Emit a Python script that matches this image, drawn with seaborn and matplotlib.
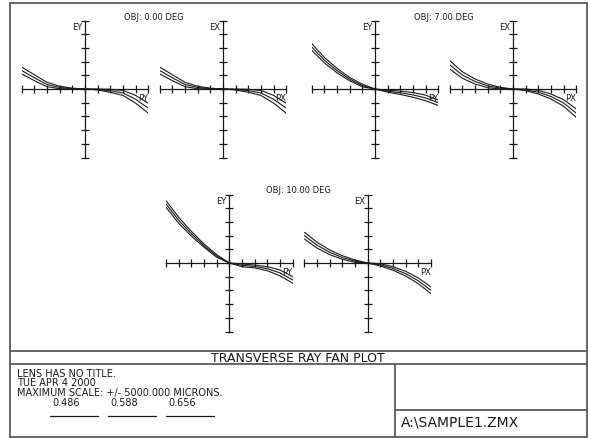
import numpy as np
import pandas as pd
import matplotlib
matplotlib.use("Agg")
import matplotlib.pyplot as plt
import seaborn as sns
from matplotlib.lines import Line2D

# ---------------- data (microns) ----------------
pupil = [-1.0, -0.8, -0.6, -0.4, -0.2, 0.0, 0.2, 0.4, 0.6, 0.8, 1.0]
wavelengths = ["0.486", "0.588", "0.656"]
max_scale = 5000.0
field_labels = ["OBJ: 0.00 DEG", "OBJ: 7.00 DEG", "OBJ: 10.00 DEG"]

obj0_ey_a = [1600, 1040, 490, 200, 60, 0, -70, -240, -470, -1030, -1770]
obj0_ey_b = [1350, 820, 330, 110, 30, 0, -35, -120, -290, -750, -1400]
obj0_ey_c = [1100, 610, 170, 20, 0, 0, 0, -20, -110, -470, -1040]

obj0_ex_a = [1600, 1040, 490, 200, 60, 0, -70, -240, -470, -1030, -1770]
obj0_ex_b = [1350, 820, 330, 110, 30, 0, -35, -120, -290, -750, -1400]
obj0_ex_c = [1100, 610, 170, 20, 0, 0, 0, -20, -110, -470, -1040]

obj7_ey_a = [3320, 2300, 1500, 840, 350, 0, -230, -400, -600, -860, -1200]
obj7_ey_b = [3075, 2105, 1340, 720, 255, 0, -160, -275, -430, -655, -1000]
obj7_ey_c = [2830, 1910, 1180, 600, 160, 0, -90, -150, -260, -450, -800]

obj7_ex_a = [2070, 1260, 730, 365, 120, 0, -120, -365, -730, -1260, -2070]
obj7_ex_b = [1765, 1020, 550, 230, 60, 0, -60, -230, -550, -1020, -1765]
obj7_ex_c = [1460, 780, 365, 95, 0, 0, 0, -95, -365, -780, -1460]

obj10_ey_a = [4550, 3340, 2310, 1390, 610, 0, -270, -360, -560, -930, -1470]
obj10_ey_b = [4310, 3120, 2140, 1270, 515, 0, -170, -255, -415, -720, -1235]
obj10_ey_c = [4070, 2900, 1970, 1150, 420, 0, -70, -150, -270, -510, -1000]

obj10_ex_a = [2240, 1510, 950, 530, 220, 0, -220, -530, -950, -1510, -2240]
obj10_ex_b = [1995, 1300, 780, 400, 135, 0, -135, -400, -780, -1300, -1995]
obj10_ex_c = [1750, 1090, 610, 270, 50, 0, -50, -270, -610, -1090, -1750]

footer_lines = ["LENS HAS NO TITLE.", "TUE APR 4 2000",
                "MAXIMUM SCALE: +/- 5000.000 MICRONS."]
file_name = "A:\\SAMPLE1.ZMX"
plot_title = "TRANSVERSE RAY FAN PLOT"

# ---------------- figure ----------------
W, H = 589, 439
sns.set_style("white")
plt.rcParams["font.family"] = ["DejaVu Sans"]
fig = plt.figure(figsize=(W / 100, H / 100), dpi=100)
fig.patch.set_facecolor("white")

INK = "#1a1a1a"
EDGE = "#5a5a5a"


def fx(x):
    return x / W


def fy(y):
    return 1 - y / H


def hline(y, x0, x1, lw=1.3, color=EDGE):
    fig.add_artist(Line2D([fx(x0), fx(x1)], [fy(y), fy(y)], color=color, lw=lw))


def vline(x, y0, y1, lw=1.3, color=EDGE):
    fig.add_artist(Line2D([fx(x), fx(x)], [fy(y0), fy(y1)], color=color, lw=lw))


panels = [
    ("EY", "PY", (obj0_ey_a, obj0_ey_b, obj0_ey_c), (85, 90)),
    ("EX", "PX", (obj0_ex_a, obj0_ex_b, obj0_ex_c), (223, 90)),
    ("EY", "PY", (obj7_ey_a, obj7_ey_b, obj7_ey_c), (375, 90)),
    ("EX", "PX", (obj7_ex_a, obj7_ex_b, obj7_ex_c), (513, 90)),
    ("EY", "PY", (obj10_ey_a, obj10_ey_b, obj10_ey_c), (229.3, 264)),
    ("EX", "PX", (obj10_ex_a, obj10_ex_b, obj10_ex_c), (367.7, 264)),
]

HW, HH = 63.3, 68.5
for ylab, xlab, series, (cx, cy) in panels:
    ax = fig.add_axes([fx(cx - HW), fy(cy + HH), 2 * HW / W, 2 * HH / H])
    df = pd.DataFrame({
        "p": pupil * 3,
        "err": list(series[0]) + list(series[1]) + list(series[2]),
        "wl": sum([[w] * len(pupil) for w in wavelengths], []),
    })
    sns.lineplot(data=df, x="p", y="err", hue="wl", palette=[INK] * 3,
                 legend=False, lw=0.8, ax=ax)
    for ln in ax.get_lines():
        ln.set_solid_joinstyle("round")
    ax.set_xlim(-1, 1)
    ax.set_ylim(-max_scale, max_scale)
    ax.patch.set_alpha(0)
    for s in ("top", "right"):
        ax.spines[s].set_visible(False)
    for s in ("left", "bottom"):
        ax.spines[s].set_position(("data", 0))
        ax.spines[s].set_color(INK)
        ax.spines[s].set_linewidth(0.9)
    ax.set_xticks(np.linspace(-1, 1, 11))
    ax.set_yticks(np.linspace(-max_scale, max_scale, 11))
    ax.set_xticklabels([])
    ax.set_yticklabels([])
    ax.tick_params(bottom=True, left=True, top=False, right=False,
                   direction="inout", length=6, width=0.9, color=INK)
    ax.set_xlabel("")
    ax.set_ylabel("")
    ax.annotate(ylab, xy=(0, max_scale), xytext=(-2, -1), textcoords="offset points",
                ha="right", va="top", fontsize=6, color=INK)
    ax.annotate(xlab, xy=(1, 0), xytext=(0, -3), textcoords="offset points",
                ha="right", va="top", fontsize=6, color=INK)

# field titles
fig.text(fx(154), fy(17), field_labels[0], ha="center", va="center", fontsize=6, color=INK)
fig.text(fx(444), fy(17), field_labels[1], ha="center", va="center", fontsize=6, color=INK)
fig.text(fx(298.5), fy(191), field_labels[2], ha="center", va="center", fontsize=6, color=INK)

# frame
L, R, T, B = 9.5, 587, 3.5, 437.5
hline(T, L, R)
hline(B, L, R)
vline(L, T, B)
vline(R, T, B)
hline(351.7, L, R)
hline(365, L, R)
vline(395, 365, B)
hline(411, 395, R)

fig.text(fx(298), fy(358.5), plot_title, ha="center", va="center", fontsize=9, color=INK)
for i, line in enumerate(footer_lines):
    fig.text(fx(17), fy(374 + 9.5 * i), line, ha="left", va="center", fontsize=7, color=INK)
for i, w in enumerate(wavelengths):
    x0 = 50 + 58 * i
    fig.text(fx(x0 + 2), fy(403), w, ha="left", va="center", fontsize=7, color=INK)
    hline(417.3, x0, x0 + 48, lw=0.9, color=INK)
fig.text(fx(401), fy(423), file_name, ha="left", va="center", fontsize=10, color=INK)

fig.savefig("out.png", dpi=100)
